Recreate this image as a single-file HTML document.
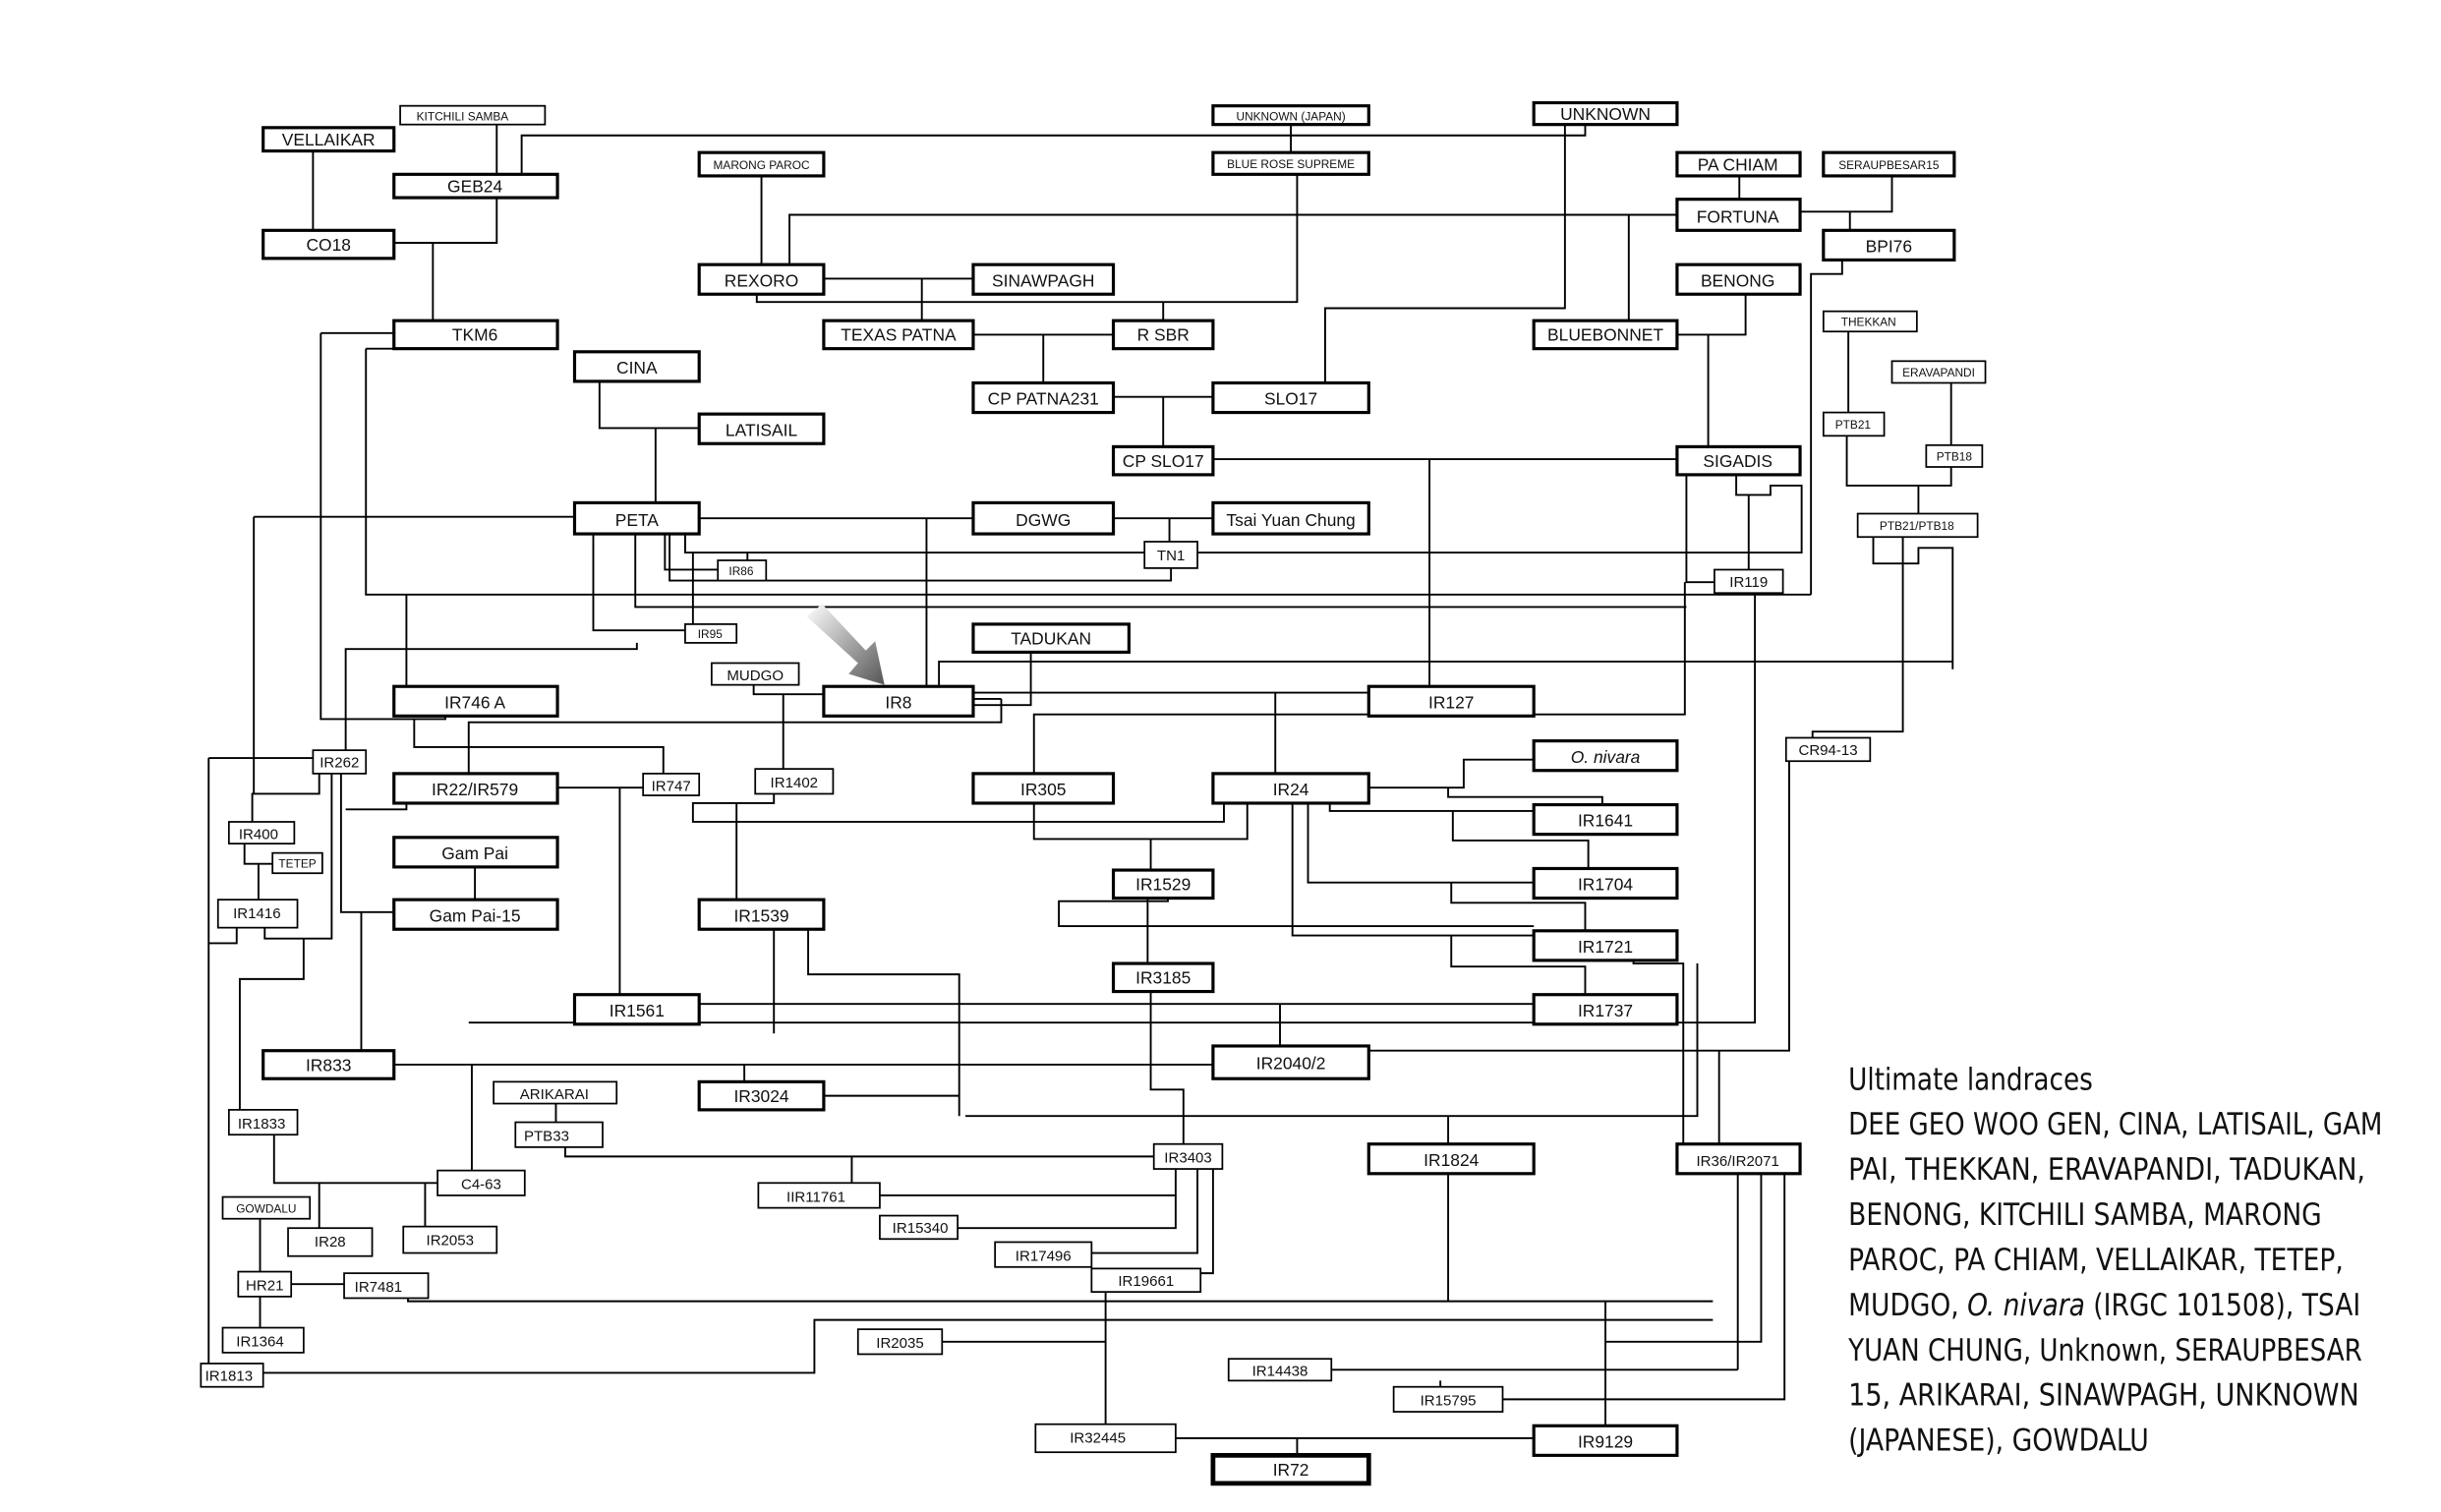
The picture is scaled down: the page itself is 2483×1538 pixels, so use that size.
<!DOCTYPE html>
<html><head><meta charset="utf-8"><style>
html,body{margin:0;padding:0;background:#fff}
svg{display:block}
.t{stroke:#000;stroke-width:2;fill:#fff}
.n{stroke:#000;stroke-width:1.1;fill:#fff}
text{font-family:"Liberation Sans",sans-serif;text-anchor:middle;fill:#111}
.L{font-size:11px}
.S{font-size:9.5px}
.X{font-size:7.5px}
.g{font-family:"DejaVu Sans Condensed","Liberation Sans",sans-serif;font-size:19.5px;text-anchor:start;fill:#111}
</style></head><body>
<svg width="2483" height="1538" viewBox="0 0 1567.6 971.4" preserveAspectRatio="none" xmlns="http://www.w3.org/2000/svg">
<defs><linearGradient id="ag" x1="0" y1="0" x2="1" y2="1"><stop offset="0" stop-color="#fff"/><stop offset="1" stop-color="#555"/></linearGradient></defs>
<g fill="none" stroke="#000" stroke-width="1.2">
<path d="M201 97V148M319 80V112M335 112V87H1018V80M319 127V156H253M278 156V206"/>
<path d="M489 113V170M507 170V138H1077M1046 138V206M1005 80V198H851V246M829 80V98"/>
<path d="M833 112V194H486V189M747 194V206M529 179H625M592 179V206M625 215H715M670 215V246M715 255H779M747 255V287"/>
<path d="M1117 113V128M1156 136H1215V113M1188 136V148M1077 215H1121V189M1097 215V287M779 295H1077M918 295V441"/>
<path d="M1183 167V176H1163V382M235 224V382H1163M206 214H253M235 224H253"/>
<path d="M1187 213V265M1253 246V286M1186 280V312H1253V300M1232 312V330M1203 345V362H1232V352H1254V430M1222 345V470H1164V474"/>
<path d="M1083 305V374H1101M1115 305V318H1137V312H1157V355H440V343M1123 318V366M1127 381V657H301"/>
<path d="M449 333H625M595 333V441M715 333H779M751 333V348M752 365V373H430V343"/>
<path d="M385 245V275H449M421 275V323M662 419V453H625M625 449H643"/>
<path d="M408 343V390H1083M381 343V405H440M445 355V401M427 343V366H461M480 355V360"/>
<path d="M409 413V417H222V482M261 382V441M206 214V462H286V460M266 462V480H426V497M301 497V464H643V449"/>
<path d="M484 440V446H529M503 446V494M603 441V425H1254M625 445H879M664 497V459H1082V374M819 445V497"/>
<path d="M163 332H369M163 332V510M134 487H201M134 487V878M205 497V510H162V528M219 497V586H253M222 520H261V516"/>
<path d="M213 497V603H170V596M152 596V606H134M195 603V629H154V713M157 542V555H175M166 555V578M232 586V675M305 557V578"/>
<path d="M358 506H413M398 506V639M497 510V516H445V528H786V516M473 516V578M497 597V664M519 597V626H616V717"/>
<path d="M449 645H985M879 506H940V488H985M930 506V512H1029V517M854 516V521H985M933 521V540H1020V558"/>
<path d="M840 516V567H985M932 567V580H1018V598M830 516V601H985M750 577V579H680V595H985M737 577V619M932 601V621H1018V639"/>
<path d="M664 516V539H801V516M739 539V559M822 645V672M1049 617V619H1081V735M1149 489V675H879M1104 675V735"/>
<path d="M253 684H779M303 684V752M478 684V695M529 704H616M739 637V700H760V735M620 717H1090V619M930 717V735"/>
<path d="M176 729V760H281M205 760V789M273 760V788M167 783V817M167 833V853M187 825H221M262 834V836H1100"/>
<path d="M169 882H523V848H1100M357 709V721M363 737V743H741M547 743V760M565 768H755V751"/>
<path d="M755 768V789H615M769 751V805H701M779 751V818H771M710 830V915M605 862H710M855 880H1116M925 887V891"/>
<path d="M1116 754V880M1131 754V862H1031M1031 836V916M1146 754V899H965M930 754V836M755 924H985M833 924V935"/>
</g>
<polygon points="518,396 528,388 556,418 562,412 568,440 545,433 551,426" fill="url(#ag)"/>
<g>
<rect class="t" x="169" y="82" width="84" height="15"/><text class="L" x="211" y="93.5">VELLAIKAR</text>
<rect class="n" x="257" y="68" width="93" height="12"/><text class="X" x="297" y="77.5">KITCHILI SAMBA</text>
<rect class="t" x="253" y="112" width="105" height="15"/><text class="L" x="305" y="123.5">GEB24</text>
<rect class="t" x="169" y="148" width="84" height="18"/><text class="L" x="211" y="161">CO18</text>
<rect class="t" x="253" y="206" width="105" height="18"/><text class="L" x="305" y="219">TKM6</text>
<rect class="t" x="369" y="226" width="80" height="19"/><text class="L" x="409" y="240">CINA</text>
<rect class="t" x="449" y="266" width="80" height="19"/><text class="L" x="489" y="280">LATISAIL</text>
<rect class="t" x="369" y="323" width="80" height="20"/><text class="L" x="409" y="338">PETA</text>
<rect class="t" x="449" y="98" width="80" height="15"/><text class="X" x="489" y="108.5">MARONG PAROC</text>
<rect class="t" x="449" y="170" width="80" height="19"/><text class="L" x="489" y="184">REXORO</text>
<rect class="t" x="625" y="170" width="90" height="19"/><text class="L" x="670" y="184">SINAWPAGH</text>
<rect class="t" x="529" y="206" width="96" height="18"/><text class="L" x="577" y="219">TEXAS PATNA</text>
<rect class="t" x="715" y="206" width="64" height="18"/><text class="L" x="747" y="219">R SBR</text>
<rect class="t" x="779" y="68" width="100" height="12"/><text class="X" x="829" y="77.5">UNKNOWN (JAPAN)</text>
<rect class="t" x="779" y="98" width="100" height="14"/><text class="X" x="829" y="108">BLUE ROSE SUPREME</text>
<rect class="t" x="985" y="66" width="92" height="14"/><text class="L" x="1031" y="77">UNKNOWN</text>
<rect class="t" x="1077" y="98" width="79" height="15"/><text class="L" x="1116" y="109.5">PA CHIAM</text>
<rect class="t" x="1077" y="128" width="79" height="20"/><text class="L" x="1116" y="143">FORTUNA</text>
<rect class="t" x="1171" y="98" width="84" height="15"/><text class="X" x="1213" y="108.5">SERAUPBESAR15</text>
<rect class="t" x="1171" y="148" width="84" height="19"/><text class="L" x="1213" y="162">BPI76</text>
<rect class="t" x="1077" y="170" width="79" height="19"/><text class="L" x="1116" y="184">BENONG</text>
<rect class="t" x="985" y="206" width="92" height="18"/><text class="L" x="1031" y="219">BLUEBONNET</text>
<rect class="t" x="625" y="246" width="90" height="19"/><text class="L" x="670" y="260">CP PATNA231</text>
<rect class="t" x="779" y="246" width="100" height="19"/><text class="L" x="829" y="260">SLO17</text>
<rect class="t" x="715" y="287" width="64" height="18"/><text class="L" x="747" y="300">CP SLO17</text>
<rect class="t" x="1077" y="287" width="79" height="18"/><text class="L" x="1116" y="300">SIGADIS</text>
<rect class="n" x="1171" y="200" width="60" height="13"/><text class="X" x="1200" y="209.5">THEKKAN</text>
<rect class="n" x="1215" y="232" width="60" height="14"/><text class="X" x="1245" y="242">ERAVAPANDI</text>
<rect class="n" x="1171" y="265" width="39" height="15"/><text class="X" x="1190" y="275.5">PTB21</text>
<rect class="n" x="1237" y="286" width="36" height="14"/><text class="X" x="1255" y="296">PTB18</text>
<rect class="n" x="1193" y="330" width="77" height="15"/><text class="X" x="1231" y="340.5">PTB21/PTB18</text>
<rect class="t" x="625" y="323" width="90" height="20"/><text class="L" x="670" y="338">DGWG</text>
<rect class="t" x="779" y="323" width="100" height="20"/><text class="L" x="829" y="338">Tsai Yuan Chung</text>
<rect class="n" x="735" y="348" width="34" height="17"/><text class="S" x="752" y="360">TN1</text>
<rect class="n" x="461" y="360" width="31" height="13"/><text class="X" x="476" y="369.5">IR86</text>
<rect class="n" x="1101" y="366" width="44" height="15"/><text class="S" x="1123" y="377">IR119</text>
<rect class="n" x="440" y="401" width="33" height="12"/><text class="X" x="456" y="410">IR95</text>
<rect class="t" x="625" y="401" width="100" height="18"/><text class="L" x="675" y="414">TADUKAN</text>
<rect class="n" x="457" y="426" width="56" height="14"/><text class="S" x="485" y="437">MUDGO</text>
<rect class="t" x="529" y="441" width="96" height="19"/><text class="L" x="577" y="455">IR8</text>
<rect class="t" x="879" y="441" width="106" height="19"/><text class="L" x="932" y="455">IR127</text>
<rect class="t" x="253" y="441" width="105" height="19"/><text class="L" x="305" y="455">IR746 A</text>
<rect class="n" x="201" y="482" width="34" height="15"/><text class="S" x="218" y="493">IR262</text>
<rect class="n" x="1147" y="474" width="54" height="15"/><text class="S" x="1174" y="485">CR94-13</text>
<rect class="t" x="253" y="497" width="105" height="19"/><text class="L" x="305" y="511">IR22/IR579</text>
<rect class="n" x="413" y="497" width="36" height="14"/><text class="S" x="431" y="508">IR747</text>
<rect class="n" x="485" y="494" width="50" height="16"/><text class="S" x="510" y="506">IR1402</text>
<rect class="t" x="625" y="497" width="90" height="19"/><text class="L" x="670" y="511">IR305</text>
<rect class="t" x="779" y="497" width="100" height="19"/><text class="L" x="829" y="511">IR24</text>
<rect class="t" x="985" y="476" width="92" height="19"/><text class="L" x="1031" y="490" font-style="italic">O. nivara</text>
<rect class="n" x="147" y="528" width="42" height="14"/><text class="S" x="166" y="539">IR400</text>
<rect class="n" x="175" y="548" width="32" height="13"/><text class="X" x="191" y="557.5">TETEP</text>
<rect class="t" x="253" y="538" width="105" height="19"/><text class="L" x="305" y="552">Gam Pai</text>
<rect class="t" x="985" y="517" width="92" height="19"/><text class="L" x="1031" y="531">IR1641</text>
<rect class="n" x="140" y="578" width="51" height="18"/><text class="S" x="165" y="590">IR1416</text>
<rect class="t" x="253" y="578" width="105" height="19"/><text class="L" x="305" y="592">Gam Pai-15</text>
<rect class="t" x="449" y="578" width="80" height="19"/><text class="L" x="489" y="592">IR1539</text>
<rect class="t" x="715" y="559" width="64" height="18"/><text class="L" x="747" y="572">IR1529</text>
<rect class="t" x="985" y="558" width="92" height="19"/><text class="L" x="1031" y="572">IR1704</text>
<rect class="t" x="985" y="598" width="92" height="19"/><text class="L" x="1031" y="612">IR1721</text>
<rect class="t" x="715" y="619" width="64" height="18"/><text class="L" x="747" y="632">IR3185</text>
<rect class="t" x="369" y="639" width="80" height="19"/><text class="L" x="409" y="653">IR1561</text>
<rect class="t" x="985" y="639" width="92" height="19"/><text class="L" x="1031" y="653">IR1737</text>
<rect class="t" x="169" y="675" width="84" height="18"/><text class="L" x="211" y="688">IR833</text>
<rect class="t" x="779" y="672" width="100" height="21"/><text class="L" x="829" y="687">IR2040/2</text>
<rect class="n" x="317" y="695" width="79" height="14"/><text class="S" x="356" y="706">ARIKARAI</text>
<rect class="t" x="449" y="695" width="80" height="18"/><text class="L" x="489" y="708">IR3024</text>
<rect class="n" x="331" y="721" width="56" height="16"/><text class="S" x="351" y="733">PTB33</text>
<rect class="n" x="147" y="713" width="44" height="16"/><text class="S" x="168" y="725">IR1833</text>
<rect class="n" x="741" y="735" width="44" height="16"/><text class="S" x="763" y="747">IR3403</text>
<rect class="t" x="879" y="735" width="106" height="19"/><text class="L" x="932" y="749">IR1824</text>
<rect class="t" x="1077" y="735" width="79" height="19"/><text class="S" x="1116" y="749">IR36/IR2071</text>
<rect class="n" x="281" y="752" width="56" height="16"/><text class="S" x="309" y="764">C4-63</text>
<rect class="n" x="487" y="760" width="78" height="16"/><text class="S" x="524" y="772">IIR11761</text>
<rect class="n" x="143" y="769" width="56" height="14"/><text class="X" x="171" y="779">GOWDALU</text>
<rect class="n" x="565" y="781" width="50" height="15"/><text class="S" x="591" y="792">IR15340</text>
<rect class="n" x="185" y="789" width="54" height="18"/><text class="S" x="212" y="801">IR28</text>
<rect class="n" x="259" y="788" width="60" height="17"/><text class="S" x="289" y="800">IR2053</text>
<rect class="n" x="639" y="798" width="62" height="16"/><text class="S" x="670" y="810">IR17496</text>
<rect class="n" x="221" y="818" width="54" height="16"/><text class="S" x="243" y="830">IR7481</text>
<rect class="n" x="153" y="817" width="34" height="16"/><text class="S" x="170" y="829">HR21</text>
<rect class="n" x="701" y="815" width="70" height="15"/><text class="S" x="736" y="826">IR19661</text>
<rect class="n" x="143" y="853" width="52" height="16"/><text class="S" x="167" y="865">IR1364</text>
<rect class="n" x="551" y="854" width="54" height="16"/><text class="S" x="578" y="866">IR2035</text>
<rect class="n" x="789" y="873" width="66" height="14"/><text class="S" x="822" y="884">IR14438</text>
<rect class="n" x="129" y="876" width="40" height="15"/><text class="S" x="147" y="887">IR1813</text>
<rect class="n" x="895" y="891" width="70" height="16"/><text class="S" x="930" y="903">IR15795</text>
<rect class="n" x="665" y="915" width="90" height="18"/><text class="S" x="705" y="927">IR32445</text>
<rect class="t" x="985" y="916" width="92" height="19"/><text class="L" x="1031" y="930">IR9129</text>
<rect x="779" y="935" width="100" height="18" fill="#fff" stroke="#000" stroke-width="3"/><text class="L" x="829" y="948">IR72</text>
</g>
<g>
<text class="g" x="1187" y="700" textLength="157" lengthAdjust="spacingAndGlyphs">Ultimate landraces</text>
<text class="g" x="1187" y="729" textLength="343" lengthAdjust="spacingAndGlyphs">DEE GEO WOO GEN, CINA, LATISAIL, GAM</text>
<text class="g" x="1187" y="758" textLength="332" lengthAdjust="spacingAndGlyphs">PAI, THEKKAN, ERAVAPANDI, TADUKAN,</text>
<text class="g" x="1187" y="787" textLength="304" lengthAdjust="spacingAndGlyphs">BENONG, KITCHILI SAMBA, MARONG</text>
<text class="g" x="1187" y="816" textLength="318" lengthAdjust="spacingAndGlyphs">PAROC, PA CHIAM, VELLAIKAR, TETEP,</text>
<text class="g" x="1187" y="845" textLength="329" lengthAdjust="spacingAndGlyphs">MUDGO, <tspan font-style="italic">O. nivara</tspan> (IRGC 101508), TSAI</text>
<text class="g" x="1187" y="874" textLength="330" lengthAdjust="spacingAndGlyphs">YUAN CHUNG, Unknown, SERAUPBESAR</text>
<text class="g" x="1187" y="903" textLength="328" lengthAdjust="spacingAndGlyphs">15, ARIKARAI, SINAWPAGH, UNKNOWN</text>
<text class="g" x="1187" y="932" textLength="193" lengthAdjust="spacingAndGlyphs">(JAPANESE), GOWDALU</text>
</g>
</svg>
</body></html>
